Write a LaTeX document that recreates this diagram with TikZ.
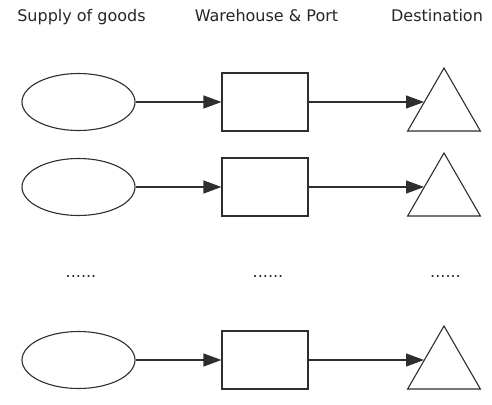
\documentclass[tikz,border=0pt]{standalone}
\usepackage{fontspec}
\setmainfont{DejaVu Sans}
\usetikzlibrary{arrows.meta,shapes.geometric}

\tikzset{
  lbl/.style={font=\fontsize{16}{18}\selectfont, text=black!85, inner sep=0pt, anchor=base},
  shapeline/.style={draw=black!82, line width=1.1pt},
  supply/.style={ellipse, shapeline, minimum width=113pt, minimum height=57pt, inner sep=0pt},
  depot/.style={rectangle, shapeline, minimum width=86pt, minimum height=58pt, inner sep=0pt},
  dest/.style={regular polygon, regular polygon sides=3, shapeline, minimum size=84pt, inner sep=0pt},
  flow/.style={draw=black!82, line width=1.1pt, -{Triangle[length=18pt,width=13pt]}},
}

\begin{document}
\begin{tikzpicture}[x=1pt,y=-1pt]
  \useasboundingbox (0,0) rectangle (492,404);

  % column headings
  \node[lbl] (h1) at (81.5,22) {Supply of goods};
  \node[lbl] (h2) at (266.5,22) {Warehouse \& Port};
  \node[lbl] (h3) at (437,22) {Destination};

  % three supply chains
  \foreach \i/\y in {1/102, 2/187, 3/360} {
    \node[supply] (e\i) at (78.5,\y) {};
    \node[depot] (r\i) at (265,\y) {};
    \node[dest] (t\i) at (444,\y+8) {};
    \draw[flow] (e\i.east) -- (r\i.west);
    \draw[flow] (r\i.east) -- (r\i.east -| t\i.157.8);
  }

  % elided rows
  \node[lbl] (d1) at (81,277) {......};
  \node[lbl] (d2) at (268,277) {......};
  \node[lbl] (d3) at (445.5,277) {......};
\end{tikzpicture}
\end{document}
